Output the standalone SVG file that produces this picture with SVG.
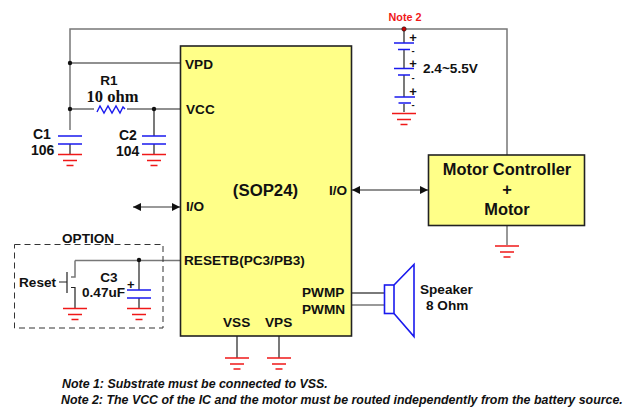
<svg xmlns="http://www.w3.org/2000/svg" width="627" height="408" viewBox="0 0 627 408">
<style>
text{font-family:"Liberation Sans",Arial,sans-serif;font-weight:bold;fill:#111;font-size:13.6px}
.m{text-anchor:middle}
.w{fill:none;stroke:#222;stroke-width:1.2}
.g{fill:none;stroke:#777;stroke-width:1.5}
.blue{fill:none;stroke:#1a1aee;stroke-width:1.4}
.red{fill:none;stroke:#f01818;stroke-width:1.4}
.box{fill:#ffff88;stroke:#222;stroke-width:1.6}
.mt{font-size:16.4px}
.c{font-size:14px}
.n{font-size:12.4px}
.pl{font-size:13px}
.mn{font-size:9.5px}
</style>
<defs>
<g id="gnd"><path class="red" d="M-12 0H12M-7 6H7M-3.500 11H3.500"/></g>
<marker id="ah" viewBox="0 0 8 8" refX="8" refY="4" markerWidth="8" markerHeight="8" markerUnits="userSpaceOnUse" orient="auto-start-reverse"><path d="M0 0L8 4L0 8Z" fill="#111"/></marker>
</defs>
<g id="connectors">
<path class="g" d="M70 130V29H507V155"/>
<path class="w" d="M70 63H180M70 109H94M127 109H180M154 109V136M154 144V154M70 144V154"/>
<path class="w" d="M404 29V43M404 50V68M404 75V97M404 104V112"/>
<path class="g" d="M507 225V245M75 260.500H180M75 260.500V277H71"/>
<path class="w" d="M139 260V290M139 298V308M59 282H67M67 272V293M71 287.500H75V308"/>
<path class="w" d="M352 190H428" marker-start="url(#ah)" marker-end="url(#ah)"/>
<path class="g" d="M133 207H180" marker-start="url(#ah)" marker-end="url(#ah)"/>
<path class="w" d="M352 293H384"/>
<path class="g" d="M352 305H384"/>
<path class="w" d="M237 336V358M279 336V358"/>
</g>
<g fill="#111" id="dots"><circle cx="70" cy="63" r="2.200"/><circle cx="70" cy="109" r="2.200"/><circle cx="154" cy="109" r="2.200"/><circle cx="139" cy="260" r="2.200"/></g>
<g id="chip"><rect class="box" x="180.500" y="46" width="171" height="290"/>
<text x="185" y="69">VPD</text><text x="186" y="114">VCC</text><text x="186" y="211">I/O</text><text x="184" y="265">RESETB(PC3/PB3)</text>
<text class="m" x="265.500" y="196" style="font-size:16.800px">(SOP24)</text><text x="329" y="195">I/O</text>
<text x="302" y="297">PWMP</text><text x="302" y="314">PWMN</text><text x="223" y="327">VSS</text><text x="265" y="327">VPS</text></g>
<g id="r1"><path d="M97 112L100 106L104 113L108 106L112 113L116 106L120 113L123 107L125 109" fill="none" stroke="#1a1aee" stroke-width="1.400"/>
<text class="m" x="109" y="85">R1</text><text class="m" x="112.500" y="102" style="font-family:'Liberation Serif',serif;font-size:16.500px">10 ohm</text></g>
<g id="c1"><path class="blue" d="M58 136H82M58 144H82"/><use href="#gnd" x="70" y="154.500"/><text class="c" x="33" y="139">C1</text><text class="c" x="31" y="155">106</text></g>
<g id="c2"><path class="blue" d="M142 136H166M142 144H166"/><use href="#gnd" x="154" y="154.500"/><text class="c" x="119" y="140">C2</text><text class="c" x="116" y="156">104</text></g>
<g id="battery"><circle cx="404" cy="29" r="2.200" fill="#c00" stroke="#111" stroke-width=".6"/>
<text class="m" x="405" y="21" style="fill:#f01818;font-size:10.800px">Note 2</text>
<path class="blue" d="M394 43H414M398 49.500H410M394 68.500H414M398 75H410M394.500 97H415M398.500 103H411"/>
<use href="#gnd" x="404" y="113.500"/>
<text class="pl" x="409.200" y="42">+</text><text class="mn" x="411.400" y="54">-</text>
<text class="pl" x="409.200" y="67.700">+</text><text class="mn" x="411.400" y="80.700">-</text>
<text class="pl" x="409.200" y="96">+</text><text class="mn" x="411.400" y="108.400">-</text>
<text x="423" y="73">2.4~5.5V</text></g>
<g id="motor"><rect class="box" x="428.500" y="155" width="156" height="70.500"/>
<text class="m mt" x="507" y="175">Motor Controller</text><text class="m mt" x="507" y="195">+</text><text class="m mt" x="507" y="215">Motor</text>
<use href="#gnd" x="507" y="246"/></g>
<g id="option"><rect x="14.500" y="244.500" width="148.500" height="83.500" fill="none" stroke="#333" stroke-width="1" stroke-dasharray="6 4"/>
<text x="62" y="243">OPTION</text><text x="19" y="287">Reset</text></g>
<g id="c3"><path class="blue" d="M127 290H151M127 298H151"/><text class="m" x="109" y="282">C3</text><text x="82" y="297">0.47uF</text><text class="pl" x="127" y="289">+</text><use href="#gnd" x="139" y="308.500"/></g>
<use id="g-reset" href="#gnd" x="75" y="308.500"/>
<g id="speaker"><rect x="384.500" y="285" width="9.500" height="28.500" fill="none" stroke="#1a1aee" stroke-width="1.600"/><path d="M394 285L414 264.500V336.500L394 313.500" fill="none" stroke="#1a1aee" stroke-width="1.600"/>
<text x="420" y="294">Speaker</text><text x="426" y="310">8 Ohm</text></g>
<use id="g-vss" href="#gnd" x="237" y="358"/><use id="g-vps" href="#gnd" x="279" y="358"/>
<g id="notes" style="font-style:italic"><text class="n" x="62" y="388">Note 1: Substrate must be connected to VSS.</text><text class="n" x="61" y="404">Note 2: The VCC of the IC and the motor must be routed independently from the battery source.</text></g>
</svg>
